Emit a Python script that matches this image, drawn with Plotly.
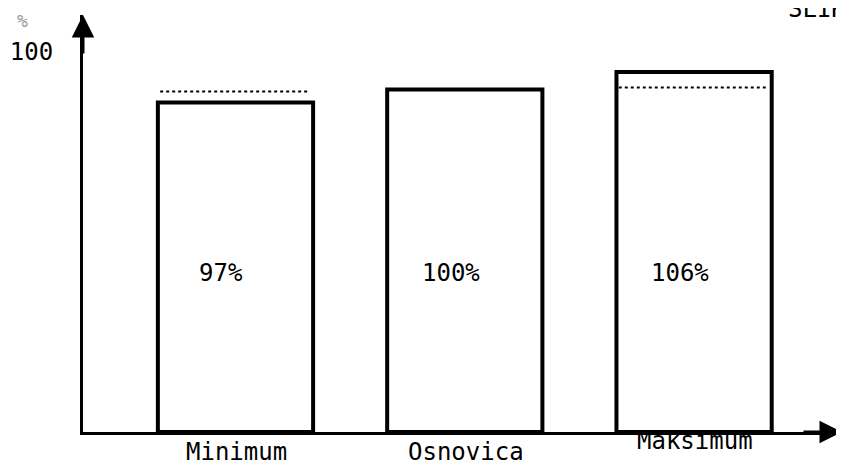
import plotly.graph_objects as go

categories = ["Minimum", "Osnovica", "Maksimum"]
bar_heights = [86.7, 90.1, 94.7]          # bar heights read in axis units (100 = tick)
bar_labels = ["97%", "100%", "106%"]
ref_level_min = 89.6                     # dotted reference inside "Minimum"
ref_level_max = 90.6                     # dotted reference inside "Maksimum"
y_tick_vals = [100]
y_tick_text = ["100"]

FONT = "DejaVu Sans Mono"
xs = list(range(len(categories)))
BW = 0.677

fig = go.Figure()
fig.add_trace(go.Bar(
    x=xs, y=bar_heights, width=BW,
    marker=dict(color="white", line=dict(color="black", width=4)),
    hoverinfo="skip", showlegend=False,
))

# dotted reference lines
for i, lvl in [(0, ref_level_min), (2, ref_level_max)]:
    fig.add_shape(type="line", xref="x", yref="y",
                  x0=i - BW / 2 + 0.01, x1=i + BW / 2 - 0.02, y0=lvl, y1=lvl,
                  line=dict(color="black", width=2, dash="dot"))

# value labels inside bars
for i, t in enumerate(bar_labels):
    fig.add_annotation(x=i, y=41.8, xref="x", yref="y", text=t, showarrow=False,
                       xshift=-14, font=dict(family=FONT, size=24, color="black"))

# category labels
shifts = [0, 0, 11]
for i, c in enumerate(categories):
    fig.add_annotation(x=i, y=0, xref="x", yref="paper", text=c,
                       showarrow=False, yanchor="top", yshift=-4 + shifts[i], xshift=1,
                       font=dict(family=FONT, size=24, color="black"))

# axis arrows
fig.add_annotation(x=0, y=1, xref="paper", yref="paper", ax=0, ay=40, text="",
                   showarrow=True, arrowhead=2, arrowsize=1.5, arrowwidth=3,
                   arrowcolor="black")
fig.add_annotation(x=1, y=0, xref="paper", yref="paper", ax=-40, ay=0, text="",
                   showarrow=True, arrowhead=2, arrowsize=1.5, arrowwidth=3,
                   arrowcolor="black")

# figure caption (cut off at the top edge in the original scan)
fig.add_annotation(x=1.0, y=1.0, xref="paper", yref="paper", text="SLIK",
                   showarrow=False, xanchor="left", yanchor="bottom",
                   xshift=-56, yshift=-10,
                   font=dict(family=FONT, size=24, color="black"))
# unit label
fig.add_annotation(x=0.0, y=1.0, xref="paper", yref="paper", text="%",
                   showarrow=False, xanchor="left", yanchor="bottom",
                   xshift=-68, yshift=-18, font=dict(family=FONT, size=18, color="#9a9a9a"))

# page body has an 8px margin: the figure is sized/offset to compensate
fig.update_layout(
    width=836, height=460,
    margin=dict(l=75, r=2, t=7, b=36),
    paper_bgcolor="white", plot_bgcolor="white",
    font=dict(family=FONT, size=24, color="black"),
    xaxis=dict(range=[-0.665, 2.645], showgrid=False, zeroline=False,
               showticklabels=False, ticks="", showline=True, automargin=False,
               linecolor="black", linewidth=3),
    yaxis=dict(range=[0, 109.7], showgrid=False, zeroline=False,
               tickvals=y_tick_vals, ticktext=y_tick_text, ticks="", automargin=False,
               ticklabelstandoff=22, showline=True, linecolor="black", linewidth=3,
               tickfont=dict(family=FONT, size=24, color="black")),
)

fig.write_html("out.html")
